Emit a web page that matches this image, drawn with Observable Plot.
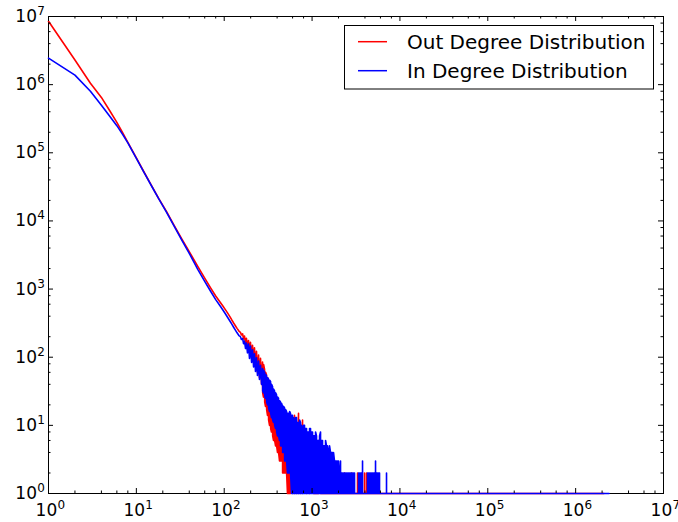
<!DOCTYPE html>
<html><head><meta charset="utf-8">
<script src="https://cdn.jsdelivr.net/npm/d3@7"></script>
<script src="https://cdn.jsdelivr.net/npm/@observablehq/plot@0.6"></script>
<style>
html,body{margin:0;padding:0;background:#fff;}
#chart{width:678px;height:522px;overflow:hidden;}
svg{display:block;}
</style>
</head><body><div id="chart"></div>
<script>
// In degree distribution: smooth head (degree, count)
const inHeadDeg = [1,2,3,4,5,6,7,8,10,12,15,18,22,27,33,40,50,60,70,80,90,97,103,110,116,122,128,134,140,147];
const inHeadCount = [2450000,1380000,800000,500000,340000,250000,185000,140000,83000,54000,32000,21000,13500,8300,5200,3350,1950,1300,930,700,565,490,435,380,340,305,275,250,228,208];
// In degree distribution: noisy tail [degree, count]
const inTail = [
[153,200],[157,182],[162,188],[166,158],[170,172],[175,134],[179,162],[184,116],[189,156],[194,96],[199,146],[205,84],[210,128],[216,72],[221,112],[227,62],[233,98],[239,54],[246,88],[252,47],[259,76],[266,40],
[273,68],[274,32],[280,30],[281,64],[288,60],[289,27],[295,25],[296,56],[303,53],[304,22],[311,20],[312,50],[319,48],[320,18],[328,16],[329,46],
[337,44],[338,15],[345,13],[346,40],[355,37],[356,12],[364,11],[365,34],[374,32],[375,10],[384,9],[385,30],[394,28],[395,8],[404,7],[405,26],
[415,25],[416,7],[426,6],[427,23],[437,22],[438,5],[449,5],[450,21],[461,19],[462,4],[473,4],[474,19],[486,18],[487,3],[499,3],[500,17],
[512,16],[513,3],[525,2],[526,15],[539,15],[540,2],[554,2],[555,16],[568,15],[569,2],[584,1],[585,14],[599,14],[600,1],[615,1],[616,13],
[631,12],[632,1],[648,1],[649,13],[665,13],[666,1],[683,1],[684,11],[701,11],[702,1],[720,1],[721,12],[739,11],[740,1],[758,1],[759,10],
[779,9],[780,1],[799,1],[800,10],[820,10],[821,1],[842,1],[843,9],[865,9],[866,1],[888,1],[889,8],[911,8],[912,1],[935,1],[936,9],
[960,9],[961,1],[986,1],[987,8],[1012,8],[1013,1],[1039,1],[1040,7],[1066,7],[1067,1],[1095,1],[1096,8],[1124,7],[1125,1],[1153,1],[1154,6],
[1184,6],[1185,1],[1216,1],[1217,7],[1248,8],[1249,1],[1281,1],[1282,6],[1315,6],[1316,1],[1350,1],[1351,5],[1386,5],[1387,1],[1423,1],[1424,6],
[1460,5],[1461,1],[1499,1],[1500,5],[1539,4],[1540,1],[1580,1],[1581,5],[1622,4],[1623,1],[1665,1],[1666,4],[1709,4],[1710,1],[1754,1],[1755,4],
[1801,3],[1802,1],[1849,1],[1850,3],[1898,3],[1899,1],[1948,1],[1949,3],[2000,3],[2001,1],[2053,1],[2054,2],[2108,3],[2109,1],[2164,1],[2165,2],
[2221,2],[2222,1],[2280,1],[2281,2],[2341,2],[2342,1],[2403,1],[2404,2],[2467,2],[2468,1],[2532,1],[2533,2],[2599,2],[2600,1],[2668,1],[2669,2],
[2739,2],[2740,1],[2812,1],[2813,2],[2887,2],[2888,1],[2963,1],[2964,2],[3042,2],[3043,1],
[3378,1],[3379,2],[3468,2],[3469,1],[3560,1],[3561,2],[3655,2],[3656,1],[3752,1],[3753,3],[3754,1],
[4277,1],[4278,2],[4391,2],[4392,1],[4507,1],[4508,2],[4627,2],[4628,1],[4750,1],[4751,2],[4876,2],[4877,1],[5005,1],[5006,2],[5138,2],[5139,1],
[5275,1],[5276,3],[5277,1],[5415,1],[5416,2],[5559,2],[5560,1],[5706,1],[5707,2],[5858,2],[5859,1],
[7036,1],[7037,2],[7038,1],
[9800,1],[21000,1],[64000,1],[310000,1],[2400000,1]];

// Out degree distribution: smooth head (degree, count)
const outHeadDeg = [1,2,3,4,5,6,7,8,10,12,15,18,22,27,33,40,50,60,70,80,90,97,103,110,116,122,128,134,140,147];
const outHeadCount = [8500000,2300000,1050000,650000,410000,280000,196000,142000,84000,54500,32500,21300,13800,8500,5400,3550,2150,1450,1040,790,640,560,500,440,395,352,318,290,265,242];
// Out degree distribution: noisy tail [degree, count]
const outTail = [
[153,232],[157,212],[162,220],[166,185],[170,205],[175,160],[179,190],[184,140],[189,176],[194,118],[199,166],[205,100],[210,150],[216,86],[221,138],[227,72],[233,122],[239,60],[246,108],[252,50],[259,96],[266,40],
[273,85],[274,30],[280,26],[281,78],[288,66],[289,22],[295,19],[296,60],[303,55],[304,17],[311,14],[312,50],[319,46],[320,12],[328,10],[329,43],
[337,40],[338,9],[345,8],[346,36],[355,33],[356,7],[364,6],[365,30],[374,28],[375,6],[384,5],[385,26],[394,24],[395,5],[404,4],[405,22],
[415,21],[416,4],[426,3],[427,20],[437,19],[438,3],[449,3],[450,18],[461,17],[462,2],[473,2],[474,16],[486,15],[487,2],[499,2],[500,14],
[512,14],[513,2],[525,1],[526,13],[539,13],[540,1],[554,1],[555,12],[568,12],[569,1],
[599,11],[600,1],[631,14],[632,1],[665,10],[666,1],[701,15],[702,1],[739,9],[740,1],[779,12],[780,1],[820,8],[821,2],[865,6],[866,1],
[935,4],[936,1],[1039,3],[1040,1],[1183,1],[1184,6],[1185,1],[1248,4],[1249,1],[1459,1],[1460,2],[1461,1],[1753,1],[1754,2],[1755,1],
[2340,1],[2341,2],[2342,1],[2811,1],[2812,2],[2813,1],[3290,1],[3291,2],[3292,1],[3953,1],[3954,2],[3955,1],[4165,1],[4166,2],[4167,1],
[2100000,1]];

const majorTicks = [1,10,100,1000,1e4,1e5,1e6,1e7];
const tickExponents = ["0","1","2","3","4","5","6","7"];
const minorTicks = [2,4,6,8,20,40,60,80,200,400,600,800,2000,4000,6000,8000,2e4,4e4,6e4,8e4,2e5,4e5,6e5,8e5,2e6,4e6,6e6,8e6];
const seriesNames = ["Out Degree Distribution","In Degree Distribution"];
const seriesColors = ["#ff0000","#0000ff"];

const W = 678, H = 522, mL = 48, mR = 15, mT = 16, mB = 29;
const pw = W - mL - mR, ph = H - mT - mB;
const outData = outHeadDeg.map((d, i) => ({d, c: outHeadCount[i]})).concat(outTail.map(([d, c]) => ({d, c})));
const inData = inHeadDeg.map((d, i) => ({d, c: inHeadCount[i]})).concat(inTail.map(([d, c]) => ({d, c})));
const font = "DejaVu Sans";

const svg = Plot.plot({
  width: W, height: H,
  marginLeft: mL, marginRight: mR, marginTop: mT, marginBottom: mB,
  style: {fontFamily: font, background: "white", overflow: "visible"},
  x: {type: "log", domain: [1, 1e7], axis: null},
  y: {type: "log", domain: [1, 1e7], axis: null},
  marks: [
    Plot.frame({stroke: "black", strokeWidth: 1}),
    Plot.line(outData, {x: "d", y: "c", stroke: seriesColors[0], strokeWidth: 1.6}),
    Plot.line(inData, {x: "d", y: "c", stroke: seriesColors[1], strokeWidth: 1.6}),
    // inward ticks, all four sides
    Plot.tickX(majorTicks, {x: d => d, insetTop: ph - 5, stroke: "black"}),
    Plot.tickX(majorTicks, {x: d => d, insetBottom: ph - 5, stroke: "black"}),
    Plot.tickX(minorTicks, {x: d => d, insetTop: ph - 2.5, stroke: "black"}),
    Plot.tickX(minorTicks, {x: d => d, insetBottom: ph - 2.5, stroke: "black"}),
    Plot.tickY(majorTicks, {y: d => d, insetRight: pw - 5, stroke: "black"}),
    Plot.tickY(majorTicks, {y: d => d, insetLeft: pw - 5, stroke: "black"}),
    Plot.tickY(minorTicks, {y: d => d, insetRight: pw - 2.5, stroke: "black"}),
    Plot.tickY(minorTicks, {y: d => d, insetLeft: pw - 2.5, stroke: "black"}),
    // x tick labels
    Plot.text(majorTicks, {x: d => d, frameAnchor: "bottom", text: () => "10", textAnchor: "end", lineAnchor: "bottom", dx: 8.7, dy: 22, fontSize: 17, fill: "black"}),
    Plot.text(majorTicks, {x: d => d, frameAnchor: "bottom", text: (d, i) => tickExponents[i], textAnchor: "start", lineAnchor: "bottom", dx: 8.9, dy: 15.3, fontSize: 12, fill: "black"}),
    // y tick labels
    Plot.text(majorTicks, {y: d => d, frameAnchor: "left", text: () => "10", textAnchor: "end", lineAnchor: "bottom", dx: -11.5, dy: 5.5, fontSize: 17, fill: "black"}),
    Plot.text(majorTicks, {y: d => d, frameAnchor: "left", text: (d, i) => tickExponents[i], textAnchor: "start", lineAnchor: "bottom", dx: -11.3, dy: -1.5, fontSize: 12, fill: "black"})
  ]
});

// legend
const g = d3.select(svg).append("g");
g.append("rect").attr("x", 344.5).attr("y", 25.5).attr("width", 309).attr("height", 63.5)
  .attr("fill", "white").attr("stroke", "black").attr("stroke-width", 1);
[0, 1].forEach(i => {
  const yy = 41.7 + i * 29;
  g.append("line").attr("x1", 358).attr("x2", 387).attr("y1", yy).attr("y2", yy)
    .attr("stroke", seriesColors[i]).attr("stroke-width", 1.5);
  g.append("text").attr("x", 407).attr("y", 49 + i * 29).attr("font-family", font)
    .attr("text-anchor", "start")
    .attr("font-size", 20).attr("fill", "black").text(seriesNames[i]);
});

document.getElementById("chart").appendChild(svg);
</script>
</body></html>
